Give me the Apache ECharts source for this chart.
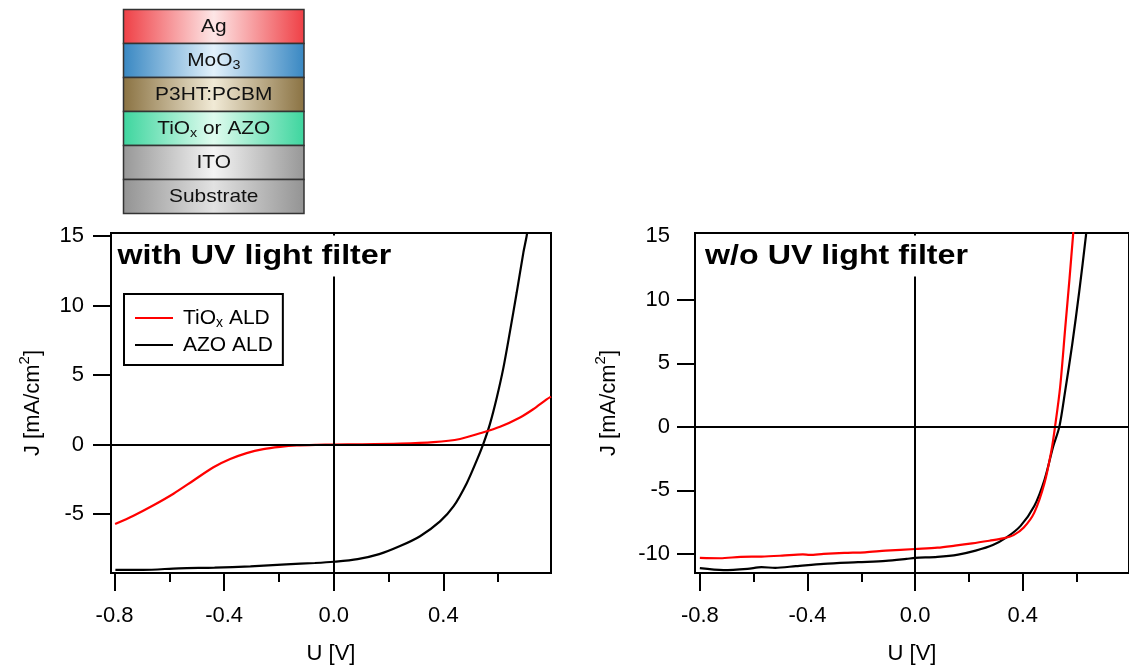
<!DOCTYPE html>
<html>
<head>
<meta charset="utf-8">
<script src="https://cdn.jsdelivr.net/npm/echarts@6/dist/echarts.min.js"></script>
<style>
html,body{margin:0;padding:0;background:#fff;}
#chart{width:1129px;height:670px;}
</style>
</head>
<body>
<div id="chart"></div>
<script>
// ---------- data ----------
// Left panel: with UV light filter
const uLeftTiOx = [-0.798,-0.731,-0.658,-0.585,-0.512,-0.439,-0.378,-0.318,-0.257,-0.196,-0.135,-0.062,0,0.1,0.242,0.364,0.461,0.534,0.607,0.68,0.728,0.777,0.793];
const jLeftTiOx = [-5.72,-5.12,-4.37,-3.54,-2.59,-1.64,-1.05,-0.62,-0.33,-0.17,-0.07,-0.02,0,0.01,0.06,0.17,0.40,0.81,1.28,1.95,2.54,3.25,3.45];
const uLeftAZO = [-0.797,-0.696,-0.565,-0.435,-0.304,-0.174,-0.069,0,0.087,0.166,0.242,0.315,0.388,0.437,0.485,0.522,0.546,0.57,0.595,0.619,0.643,0.668,0.692,0.704,0.712];
const jLeftAZO = [-9.03,-9.03,-8.91,-8.86,-8.77,-8.63,-8.53,-8.44,-8.25,-7.89,-7.31,-6.6,-5.53,-4.46,-2.8,-1.14,0.05,1.47,3.37,5.5,8.11,10.96,13.8,15.0,16.0];
// Right panel: without UV light filter
const uRightTiOx = [-0.8,-0.725,-0.648,-0.571,-0.494,-0.417,-0.392,-0.34,-0.263,-0.186,-0.109,0,0.083,0.148,0.212,0.276,0.327,0.366,0.404,0.443,0.481,0.507,0.52,0.539,0.558,0.574,0.587,0.592];
const jRightTiOx = [-10.31,-10.34,-10.23,-10.21,-10.13,-10.03,-10.08,-10.0,-9.92,-9.87,-9.74,-9.61,-9.51,-9.35,-9.17,-8.96,-8.78,-8.52,-7.92,-6.75,-4.42,-1.82,0,3.12,7.79,11.69,15.06,16.3];
const uRightAZO = [-0.8,-0.712,-0.623,-0.571,-0.52,-0.443,-0.34,-0.212,-0.109,-0.032,0,0.083,0.16,0.225,0.289,0.34,0.392,0.443,0.481,0.513,0.536,0.558,0.584,0.61,0.635,0.641];
const jRightAZO = [-11.12,-11.27,-11.17,-11.04,-11.09,-10.96,-10.78,-10.65,-10.55,-10.39,-10.31,-10.23,-10.05,-9.74,-9.30,-8.70,-7.79,-6.23,-4.16,-1.56,0,2.86,6.49,10.65,15.06,16.4];
// ticks
const xMajorTicks = [-0.8,-0.4,0,0.4];
const xMinorTicks = [-0.6,-0.2,0.2,0.6];
const yTicksLeft = [-5,0,5,10,15];
const yTicksRight = [-10,-5,0,5,10,15];
const yTickMarksRight = [-10,-5,0,5,10];
const seriesNames = ['TiOx ALD','AZO ALD'];
const panelTitles = ['with UV light filter','w/o UV light filter'];
const layerLabels = ['Ag','MoO{s|3}','P3HT:PCBM','TiO{s|x} or AZO','ITO','Substrate'];

// ---------- styles ----------
const FONT = "'Liberation Sans', Arial, sans-serif";
const layerEdge = ['#ef3f45','#3887c2','#8a7242','#3dd59e','#979797','#939393'];
const layerCenter = ['#fde6e6','#e2f1fb','#f1ead6','#e0fcef','#f4f4f4','#e2e2e2'];

function pairs(u, j){ return u.map((v,i)=>[v, j[i]]); }

const tickLine = {color:'#000', width:2};
function xMajor(grid, min, max){
  return {type:'value', gridIndex:grid, min, max, position:'bottom',
    axisLine:{show:false,onZero:false},
    axisTick:{show:true,length:18,lineStyle:tickLine,customValues:xMajorTicks},
    axisLabel:{customValues:xMajorTicks,formatter:v=>v.toFixed(1),fontSize:22,color:'#000',margin:32,fontFamily:FONT},
    splitLine:{show:false},
    name:'U [V]', nameLocation:'middle', nameGap:70,
    nameTextStyle:{fontSize:22,color:'#000',fontFamily:FONT}};
}
function xMinor(grid, min, max){
  return {type:'value', gridIndex:grid, min, max, position:'bottom',
    axisLine:{show:false,onZero:false},
    axisTick:{show:true,length:9,lineStyle:tickLine,customValues:xMinorTicks},
    axisLabel:{show:false}, splitLine:{show:false}};
}
function yAx(grid, min, max, labels, marks, margin, gap){
  return {type:'value', gridIndex:grid, min, max,
    axisLine:{show:false,onZero:false},
    axisTick:{show:true,length:18,lineStyle:tickLine,customValues:marks},
    axisLabel:{customValues:labels,fontSize:22,color:'#000',margin:margin,fontFamily:FONT},
    splitLine:{show:false},
    name:'J [mA/cm{s|2}]', nameLocation:'middle', nameGap:gap,
    nameTextStyle:{fontSize:22,color:'#000',fontFamily:FONT,lineHeight:31,
      rich:{s:{fontSize:15,lineHeight:15,verticalAlign:'top',fontFamily:FONT,color:'#000'}}}};
}
const zeroLines = {symbol:'none', silent:true, label:{show:false},
  lineStyle:{color:'#000', width:2, type:'solid'},
  data:[{yAxis:0},{xAxis:0}]};

function lineSeries(name, xi, yi, data, color, z, withZero){
  const s = {name, type:'line', xAxisIndex:xi, yAxisIndex:yi, data,
    showSymbol:false, symbol:'none', smooth:0.3, z,
    lineStyle:{color, width:2.2}, itemStyle:{color}};
  if (withZero) s.markLine = zeroLines;
  return s;
}

const graphics = [];
layerLabels.forEach((lab, i) => {
  const top = 9.5 + i*34;
  graphics.push({type:'rect', z:10,
    shape:{x:123.5, y:top, width:180.5, height:34},
    style:{fill:{type:'linear',x:0,y:0,x2:1,y2:0,colorStops:[
      {offset:0,color:layerEdge[i]},{offset:0.5,color:layerCenter[i]},{offset:1,color:layerEdge[i]}]},
      stroke:'#333', lineWidth:1.5}});
  graphics.push({type:'text', z:11, x:213.75, y:top+17, scaleX:1.1,
    style:{text:lab, fontSize:19, fontFamily:FONT, fill:'#111', align:'center', verticalAlign:'middle', lineHeight:23,
      rich:{s:{fontSize:13, lineHeight:13, verticalAlign:'bottom', fontFamily:FONT, fill:'#111'}}}});
});
[[113, panelTitles[0]],[700.5, panelTitles[1]]].forEach(([x,t]) => {
  graphics.push({type:'text', z:50, x:x, y:256, scaleX:1.13,
    style:{text:t, fontSize:28.5, fontWeight:'bold', fontFamily:FONT, fill:'#000',
      align:'left', verticalAlign:'middle', backgroundColor:'#fff', padding:[8,4,4,4]}});
});

const chart = echarts.init(document.getElementById('chart'), null, {renderer:'canvas'});
chart.setOption({
  animation:false,
  backgroundColor:'#fff',
  textStyle:{fontFamily:FONT},
  grid:[
    {left:111, top:233, width:440, height:344, show:true, borderColor:'#000', borderWidth:2},
    {left:695, top:233, width:440, height:345, show:true, borderColor:'#000', borderWidth:2}
  ],
  xAxis:[ xMajor(0,-0.813,0.793), xMinor(0,-0.813,0.793), xMajor(1,-0.818,0.795), xMinor(1,-0.818,0.795) ],
  yAxis:[ yAx(0,-9.25,15.23,yTicksLeft,yTicksLeft,27,63), yAx(1,-11.5,15.26,yTicksRight,yTickMarksRight,25,71) ],
  legend:{data:seriesNames, left:124, top:294, orient:'vertical', icon:'rect',
    itemWidth:38, itemHeight:2, itemGap:3, padding:[12,10,8,11],
    borderColor:'#000', borderWidth:2, backgroundColor:'#fff', selectedMode:false,
    formatter: n => n === 'TiOx ALD' ? 'TiO{sub|x} ALD' : n,
    textStyle:{fontSize:21, color:'#000', lineHeight:24, fontFamily:FONT, padding:[0,0,0,5],
      rich:{sub:{fontSize:14, lineHeight:14, verticalAlign:'bottom', fontFamily:FONT, color:'#000'}}}},
  series:[
    lineSeries(seriesNames[1], 0, 0, pairs(uLeftAZO, jLeftAZO), '#000', 2, true),
    lineSeries(seriesNames[0], 0, 0, pairs(uLeftTiOx, jLeftTiOx), '#ff0000', 3, false),
    lineSeries(seriesNames[1], 2, 1, pairs(uRightAZO, jRightAZO), '#000', 2, true),
    lineSeries(seriesNames[0], 2, 1, pairs(uRightTiOx, jRightTiOx), '#ff0000', 3, false)
  ],
  graphic: graphics
});
</script>
</body>
</html>
